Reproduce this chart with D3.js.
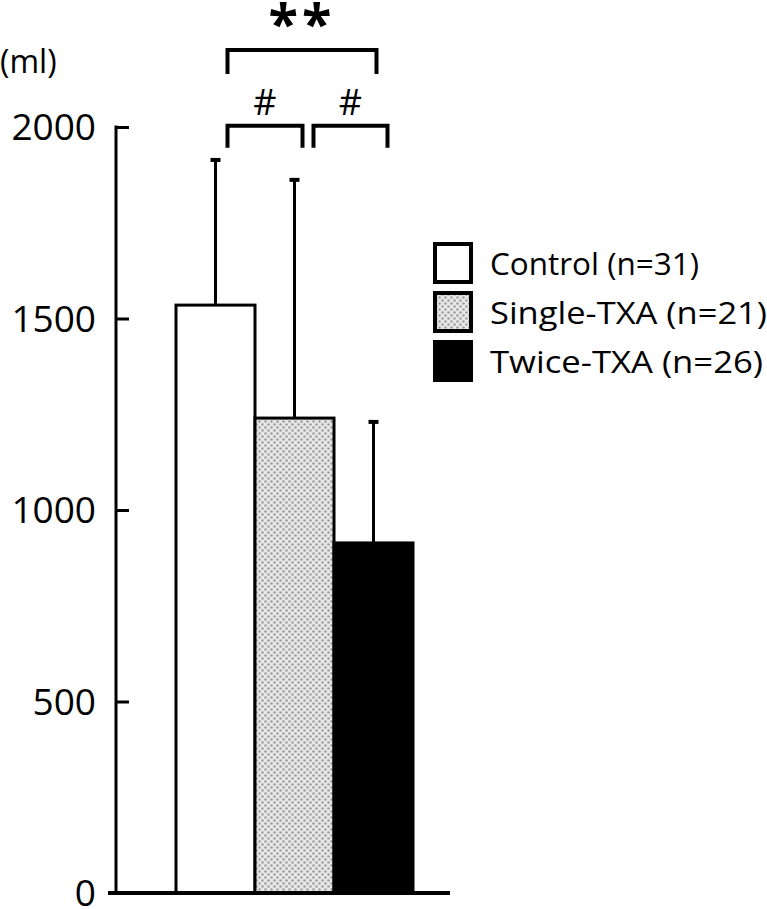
<!DOCTYPE html>
<html>
<head>
<meta charset="utf-8">
<title>Blood loss by group</title>
<script src="https://d3js.org/d3.v7.min.js"></script>
<style>
  body { margin: 0; background: #fff; }
  text { font-family: "Open Sans", Calibri, sans-serif; fill: #000; }
</style>
</head>
<body>
<svg id="chart"></svg>
<script>
// data
const groups = ["Control", "Single-TXA", "Twice-TXA"];
const legendLabels = ["Control (n=31)", "Single-TXA (n=21)", "Twice-TXA (n=26)"];
const means = [1535, 1240, 914];
const sds = [379, 622, 316];
const yTicks = [0, 500, 1000, 1500, 2000];
// comparisons: from group, to group, bracket top value, label
const compFrom = ["Control", "Single-TXA", "Control"];
const compTo = ["Single-TXA", "Twice-TXA", "Twice-TXA"];
const compLevel = [2003, 2003, 2201];
const compLabel = ["#", "#", "**"];

const W = 767, H = 909;
const svg = d3.select("#chart").attr("width", W).attr("height", H);

const yScale = d3.scaleLinear().domain([0, 2000]).range([893, 127]);
const xScale = d3.scaleBand().domain(groups).range([176, 413]).padding(0);
const mid = d => xScale(d) + xScale.bandwidth() / 2;

// fill pattern for the single dose bar
const defs = svg.append("defs");
const pat = defs.append("pattern")
  .attr("id", "dots")
  .attr("patternUnits", "userSpaceOnUse")
  .attr("width", 6).attr("height", 6);
pat.append("rect").attr("width", 6).attr("height", 6).attr("fill", "#e8e8e8");
pat.append("circle").attr("cx", 1.5).attr("cy", 1.5).attr("r", 1.3).attr("fill", "#a0a0a0");
pat.append("circle").attr("cx", 4.5).attr("cy", 4.5).attr("r", 1.3).attr("fill", "#a0a0a0");

const fills = d3.scaleOrdinal().domain(groups).range(["#fff", "url(#dots)", "#000"]);

// error bars (upper only)
const err = svg.selectAll(".err")
  .data(groups)
  .enter()
  .append("g")
  .attr("class", "err");
err.append("line")
  .attr("x1", mid).attr("x2", mid)
  .attr("y1", (d, i) => yScale(means[i]))
  .attr("y2", (d, i) => yScale(means[i] + sds[i]))
  .attr("stroke", "#000").attr("stroke-width", 3);
err.append("line")
  .attr("x1", d => mid(d) - 5)
  .attr("x2", d => mid(d) + 5)
  .attr("y1", (d, i) => yScale(means[i] + sds[i]))
  .attr("y2", (d, i) => yScale(means[i] + sds[i]))
  .attr("stroke", "#000").attr("stroke-width", 4);

// bars
svg.selectAll(".bar")
  .data(groups)
  .enter()
  .append("rect")
  .attr("class", "bar")
  .attr("x", d => xScale(d))
  .attr("width", xScale.bandwidth())
  .attr("y", (d, i) => yScale(means[i]))
  .attr("height", (d, i) => yScale(0) - yScale(means[i]))
  .attr("fill", d => fills(d))
  .attr("stroke", "#000")
  .attr("stroke-width", 3);

// y axis, ticks pointing inward
const yAxis = d3.axisRight(yScale)
  .tickValues(yTicks)
  .tickSize(13)
  .tickFormat("");
const gy = svg.append("g")
  .attr("transform", "translate(116,0)")
  .call(yAxis);
gy.select(".domain").remove();
gy.selectAll(".tick line").attr("stroke", "#000").attr("stroke-width", 3);
gy.append("line")
  .attr("x1", 0).attr("x2", 0)
  .attr("y1", yScale(2000) - 1.5).attr("y2", yScale(0))
  .attr("stroke", "#000").attr("stroke-width", 3);

// tick labels
svg.selectAll(".ylab")
  .data(yTicks)
  .enter()
  .append("text")
  .attr("class", "ylab")
  .attr("x", 96)
  .attr("y", d => yScale(d))
  .attr("dy", "0.36em")
  .attr("text-anchor", "end")
  .style("font-size", "37px")
  .text(d => d);

svg.append("text")
  .attr("x", 0).attr("y", 73)
  .style("font-size", "32px")
  .text("(ml)");

// baseline
svg.append("line")
  .attr("x1", 108).attr("x2", 450)
  .attr("y1", yScale(0)).attr("y2", yScale(0))
  .attr("stroke", "#000").attr("stroke-width", 4);

// significance brackets
const fromOff = [12, 19, 12];
const toOff = [8, 14, 3];
compLabel.forEach((lab, i) => {
  const xa = mid(compFrom[i]) + fromOff[i];
  const xb = mid(compTo[i]) + toOff[i];
  const yt = yScale(compLevel[i]);
  const drop = i === 2 ? 24 : 22;
  svg.append("path")
    .attr("d", `M${xa},${yt + drop}V${yt}H${xb}V${yt + drop}`)
    .attr("fill", "none")
    .attr("stroke", "#000")
    .attr("stroke-width", 4);
  svg.append("text")
    .attr("x", (xa + xb) / 2)
    .attr("y", i === 2 ? yt - 7 : yt - 11)
    .attr("text-anchor", "middle")
    .style("font-size", i === 2 ? "54px" : "36px")
    .style("font-weight", i === 2 ? "bold" : "normal")
    .attr("letter-spacing", i === 2 ? "4" : "0")
    .text(lab);
});

// legend
const legend = svg.selectAll(".legend")
  .data(groups)
  .enter()
  .append("g")
  .attr("class", "legend")
  .attr("transform", (d, i) => `translate(435,${244 + i * 49})`);
legend.append("rect")
  .attr("width", 36).attr("height", 38)
  .attr("fill", d => fills(d))
  .attr("stroke", "#000").attr("stroke-width", 4);
legend.append("text")
  .attr("x", 55).attr("y", 31)
  .style("font-size", "31px")
  .attr("textLength", (d, i) => [209, 277, 273][i])
  .attr("lengthAdjust", "spacingAndGlyphs")
  .text((d, i) => legendLabels[i]);
</script>
</body>
</html>
